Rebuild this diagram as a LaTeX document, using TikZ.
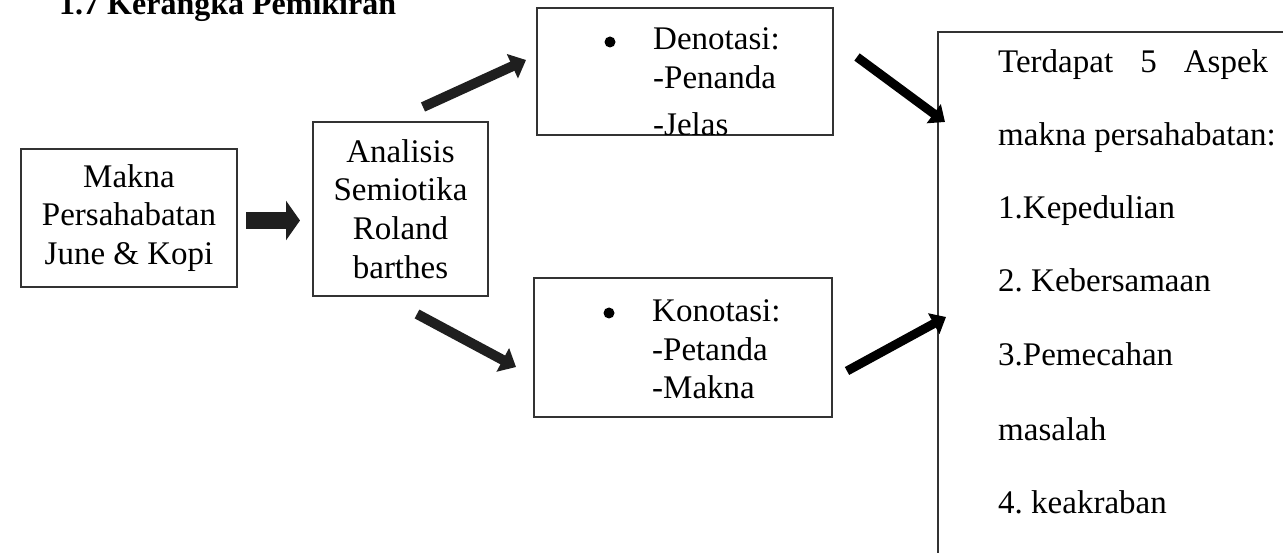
\documentclass[tikz,border=0pt]{standalone}
\usepackage{fontspec}
\setmainfont{Liberation Serif}
\usetikzlibrary{arrows.meta}
\frenchspacing
\begin{document}
\begin{tikzpicture}[x=1pt,y=-1pt,
  box/.style={draw=black!80, line width=1.3pt, rectangle, inner sep=0pt},
  btxt/.style={font=\fontsize{33}{38.7}\selectfont, align=center},
  txt/.style={inner sep=0pt, anchor=base west, font=\fontsize{33}{38.7}\selectfont},
  bul/.style={circle, fill=black, inner sep=0pt, minimum size=11pt},
  blk/.style={draw=black!88, line width=10pt, -{Triangle[width=26pt,length=15pt]}},
  blkh/.style={draw=black!88, line width=17pt, -{Triangle[width=39pt,length=14pt]}}]
\useasboundingbox (0,0) rectangle (1283,553);
\clip (0,0) rectangle (1283,553);

% title
\node[txt, font=\fontsize{32}{38.7}\selectfont\bfseries] (title) at (59,15) {1.7 Kerangka Pemikiran};

% boxes
\node[box, btxt, minimum width=216pt, minimum height=138pt] (makna) at (129,218) {Makna\\Persahabatan\\June \& Kopi};
\node[box, btxt, minimum width=175pt, minimum height=174pt] (analisis) at (400.5,209) {Analisis\\Semiotika\\Roland\\barthes};
\node[box, minimum width=296pt, minimum height=127pt] (deno) at (685,71.5) {};
\node[box, minimum width=298pt, minimum height=139pt] (kono) at (683,347.5) {};
\node[box, minimum width=400pt, minimum height=636pt] (aspek) at (1138,350) {};

% denotasi text (clipped to its box)
\begin{scope}
\clip (deno.south west) rectangle (deno.north east);
\node[bul] (b1) at (610,42) {};
\node[txt] (d1) at (653,50) {Denotasi:};
\node[txt] (d2) at (653,88.5) {-Penanda};
\node[txt] (d3) at (653,136) {-Jelas};
\end{scope}
\draw[draw=black!80, line width=1.3pt] (deno.south west) -- (deno.south east);

% konotasi text
\node[bul] (b2) at (609,313) {};
\node[txt] (k1) at (652,322) {Konotasi:};
\node[txt] (k2) at (652,360.5) {-Petanda};
\node[txt] (k3) at (652,399) {-Makna};

% aspek text
\node[txt] (a1) at (998,73) {\makebox[270pt][s]{Terdapat 5 Aspek}};
\node[txt] (a2) at (998,146) {makna persahabatan:};
\node[txt] (a3) at (998,219) {1.Kepedulian};
\node[txt] (a4) at (998,292) {2. Kebersamaan};
\node[txt] (a5) at (998,366) {3.Pemecahan};
\node[txt] (a6) at (998,440) {masalah};
\node[txt] (a7) at (998,513) {4. keakraban};

% arrow end points
\coordinate (h0) at (246,220.5);
\coordinate (h1) at (300,220.5);
\coordinate (u0) at (423,107);
\coordinate (u1) at (526,60);
\coordinate (d0) at (417,314);
\coordinate (d1e) at (516,367);
\coordinate (r0) at (857,57);
\coordinate (r1) at (945,122);
\coordinate (s0) at (847,371);
\coordinate (s1) at (946,317);

\draw[blkh] (h0) -- (h1);
\draw[blk] (u0) -- (u1);
\draw[blk] (d0) -- (d1e);
\draw[blk, draw=black, line width=9pt, -{Triangle[width=23pt,length=14pt]}] (r0) -- (r1);
\draw[blk, draw=black, line width=9pt, -{Triangle[width=23pt,length=14pt]}] (s0) -- (s1);
\end{tikzpicture}
\end{document}
